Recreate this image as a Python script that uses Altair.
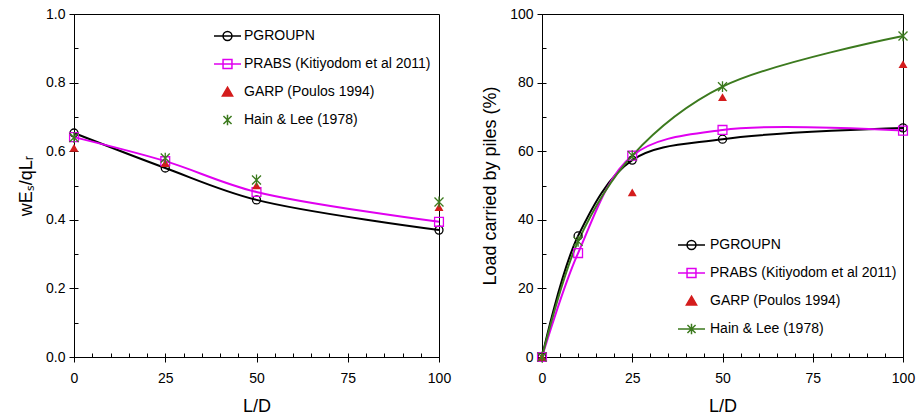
import altair as alt
import pandas as pd

# ---------------- data ----------------
series = ["PGROUPN", "PRABS (Kitiyodom et al 2011)", "GARP (Poulos 1994)", "Hain & Lee (1978)"]
colors = ["#000000", "#e000f0", "#d41c1c", "#3c7a1e"]
fills = ["transparent", "transparent", "#d41c1c", "transparent"]

# left panel: normalised settlement
ld_left = [0, 25, 50, 100]
left_pgroupn = [0.653, 0.551, 0.458, 0.370]
left_prabs = [0.641, 0.571, 0.481, 0.394]
left_garp = [0.610, 0.565, 0.500, 0.437]
left_hain = [0.640, 0.580, 0.516, 0.452]

# right panel: load carried by piles (%)
ld_right = [0, 10, 25, 50, 100]
ld_right_garp = [0, 25, 50, 100]
right_pgroupn = [0, 35.3, 57.4, 63.5, 66.8]
right_prabs = [0, 30.3, 58.7, 66.2, 66.0]
right_garp = [0, 48.0, 75.8, 85.4]
right_hain = [0, 33.7, 58.7, 78.8, 93.6]


def long_df(pairs):
    rows = []
    for name, xs, ys in pairs:
        for x, y in zip(xs, ys):
            rows.append({"LD": x, "val": y, "series": name})
    return pd.DataFrame(rows)


df_left = long_df([
    (series[0], ld_left, left_pgroupn),
    (series[1], ld_left, left_prabs),
    (series[2], ld_left, left_garp),
    (series[3], ld_left, left_hain),
])
df_right = long_df([
    (series[0], ld_right, right_pgroupn),
    (series[1], ld_right, right_prabs),
    (series[2], ld_right_garp, right_garp),
    (series[3], ld_right, right_hain),
])

FONT = "Liberation Sans"

CIRCLE_L = "M-1,0L1,0M0.33,0A0.33,0.33 0 1,1 -0.33,0A0.33,0.33 0 1,1 0.33,0Z"
SQUARE_L = "M-1,0L1,0M-0.33,-0.33L0.33,-0.33L0.33,0.33L-0.33,0.33Z"
TRI_L = "M0,-0.36L0.38,0.3L-0.38,0.3Z"
STAR_NOLINE = "M-0.3,-0.3L0.3,0.3M-0.3,0.3L0.3,-0.3M0,-0.38L0,0.38"
STAR_LINE = "M-1,0L1,0M-0.3,-0.3L0.3,0.3M-0.3,0.3L0.3,-0.3M0,-0.38L0,0.38"
STAR_MARK = "M-1,-1L1,1M-1,1L1,-1M0,-1.2L0,1.2"

marker_shapes = ["circle", "square", "triangle-up", STAR_MARK]
marker_sizes = [64, 78, 80, 81]
marker_filled = [False, False, True, False]


def panel(df, line_series, y_dom, y_major, y_minor, y_fmt, y_title, W, H,
          legend_paths, lx, ly, label_offset):
    xs = alt.Scale(domain=[0, 100], nice=False, zero=False)
    ys = alt.Scale(domain=y_dom, nice=False, zero=False)
    base = alt.Chart(df)

    leg = alt.Legend(orient="none", legendX=lx, legendY=ly, title=None,
                     symbolSize=729, symbolStrokeWidth=1.5, labelFont=FONT,
                     labelFontSize=14, labelColor="black", rowPadding=6,
                     padding=0, labelOffset=label_offset, symbolOpacity=1,
                     labelLimit=400)

    main = base.transform_filter("false").mark_point(
        filled=False, strokeWidth=1.5, opacity=1
    ).encode(
        x=alt.X("LD:Q", scale=xs, axis=alt.Axis(
            values=[0, 25, 50, 75, 100], tickSize=5, title="L/D",
            labelPadding=9, titlePadding=12, format="d", labelFlush=False)),
        y=alt.Y("val:Q", scale=ys, axis=alt.Axis(
            values=y_major, tickSize=5, title=y_title, format=y_fmt,
            labelPadding=4, titlePadding=10, labelFlush=False)),
        color=alt.Color("series:N", scale=alt.Scale(domain=series, range=colors), legend=leg),
        fill=alt.Fill("series:N", scale=alt.Scale(domain=series, range=fills), legend=leg),
        shape=alt.Shape("series:N", scale=alt.Scale(domain=series, range=legend_paths), legend=leg),
    )

    inner = base.transform_filter("false").mark_point(opacity=1).encode(
        x=alt.X("LD:Q", scale=xs, axis=alt.Axis(
            orient="top", offset=-H, values=list(range(0, 101, 5)), tickSize=4,
            labels=False, domain=False, title=None)),
        y=alt.Y("val:Q", scale=ys, axis=alt.Axis(
            orient="right", offset=-W, values=y_minor, tickSize=4,
            labels=False, domain=False, title=None)),
    )

    layers = [main, inner]
    for i, s in enumerate(series):
        if s in line_series:
            layers.append(
                base.transform_filter(alt.datum.series == s).mark_line(
                    color=colors[i], strokeWidth=2, interpolate="catmull-rom"
                ).encode(
                    x=alt.X("LD:Q", scale=xs, axis=None),
                    y=alt.Y("val:Q", scale=ys, axis=None),
                )
            )
    for i, s in enumerate(series):
        layers.append(
            base.transform_filter(alt.datum.series == s).mark_point(
                shape=marker_shapes[i], size=marker_sizes[i], color=colors[i],
                filled=marker_filled[i], strokeWidth=1.3, opacity=1
            ).encode(
                x=alt.X("LD:Q", scale=xs, axis=None),
                y=alt.Y("val:Q", scale=ys, axis=None),
            )
        )
    return alt.layer(*layers).resolve_axis(x="independent", y="independent").properties(
        width=W, height=H)


left = panel(df_left, [series[0], series[1]], [0, 1],
             [0, 0.2, 0.4, 0.6, 0.8, 1.0], [round(i * 0.1, 1) for i in range(11)],
             ".1f", "wEₛ/qLᵣ", 365, 343,
             [CIRCLE_L, SQUARE_L, TRI_L, STAR_NOLINE], 139, 7.5, 2)

right = panel(df_right, [series[0], series[1], series[3]], [0, 100],
              [0, 20, 40, 60, 80, 100], list(range(0, 101, 10)),
              "d", "Load carried by piles (%)", 361, 343,
              [CIRCLE_L, SQUARE_L, TRI_L, STAR_LINE], 135, 216.5, 4)

chart = alt.hconcat(left, right, spacing=29).resolve_scale(
    color="independent", fill="independent", shape="independent"
).resolve_legend(
    color="independent", fill="independent", shape="independent"
).properties(
    padding={"left": 17, "top": 6, "right": 2, "bottom": 0}
).configure_view(
    stroke="black", strokeWidth=1
).configure_axis(
    labelFont=FONT, labelFontSize=14, labelColor="black",
    titleFont=FONT, titleFontSize=18, titleFontWeight="normal", titleColor="black",
    domainColor="black", tickColor="black", grid=False, domainWidth=1, tickWidth=1
)

chart.save("out.html", embed_options={"renderer": "svg", "actions": False})
